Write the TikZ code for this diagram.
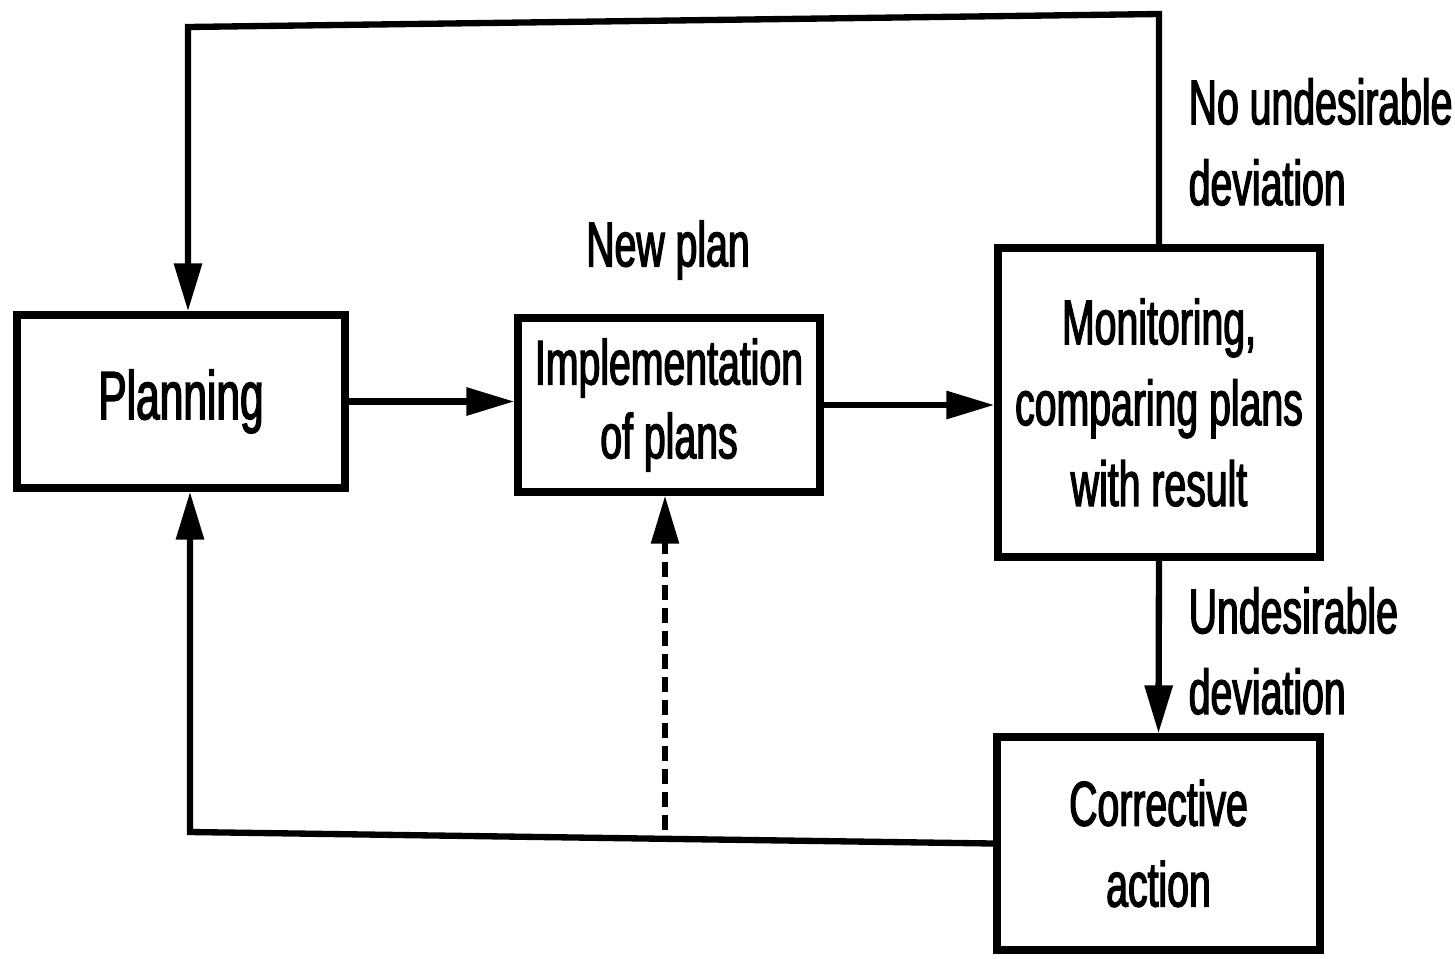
\documentclass[tikz,border=0pt]{standalone}
\usepackage{fontspec}
\setmainfont[FakeStretch=0.62,FakeBold=2]{Liberation Sans}
\usetikzlibrary{arrows.meta,calc}
\begin{document}
\begin{tikzpicture}[
  every node/.style={font=\fontsize{18}{23}\selectfont},
  box/.style={draw, line width=2.1pt, rectangle, inner sep=0pt, align=center},
  conn/.style={line width=1.8pt, -{Triangle[length=0.48cm,width=0.27cm]}},
  dashline/.style={line width=1.6pt, dash pattern=on 0.15cm off 0.08cm, -{Triangle[length=0.48cm,width=0.27cm]}},
  lbl/.style={align=left, inner sep=0pt}
]
\useasboundingbox (0,0) rectangle (14.55,-9.58);

\node[box, minimum width=3.28cm, minimum height=1.73cm, font=\fontsize{19.5}{23}\selectfont] (P) at (1.81,-4.015) {Planning};
\node[box, minimum width=3.02cm, minimum height=1.74cm, font=\fontsize{18}{21}\selectfont] (I) at (6.69,-4.05) {Implementation\\of plans};
\node[box, minimum width=3.22cm, minimum height=3.09cm] (M) at (11.59,-4.025) {Monitoring,\\comparing plans\\with result};
\node[box, minimum width=3.23cm, minimum height=2.13cm] (C) at (11.585,-8.435) {Corrective\\action};

\node[inner sep=0pt] (NP) at (6.68,-2.50) {New plan};
\node[lbl, anchor=west] (NU) at (11.88,-1.42) {No undesirable\\deviation};
\node[lbl, anchor=west] (UD) at (11.88,-6.51) {Undesirable\\deviation};

\coordinate (tr) at (11.59,-0.14);
\coordinate (tl) at (1.88,-0.27);
\coordinate (bl) at (1.90,-8.32);
\coordinate (dj) at (6.65,-8.30);

\draw[conn] (P.east) -- (P.east -| I.west);
\draw[conn] (I.east) -- (I.east -| M.west);
\draw[conn] (M.north) -- (tr) -- (tl) -- (tl |- P.north);
\draw[conn] (M.south) -- (C.north);
\draw[conn] (C.west) -- (bl) -- (bl |- P.south);
\draw[dashline] (dj) -- (dj |- I.south);
\end{tikzpicture}
\end{document}
